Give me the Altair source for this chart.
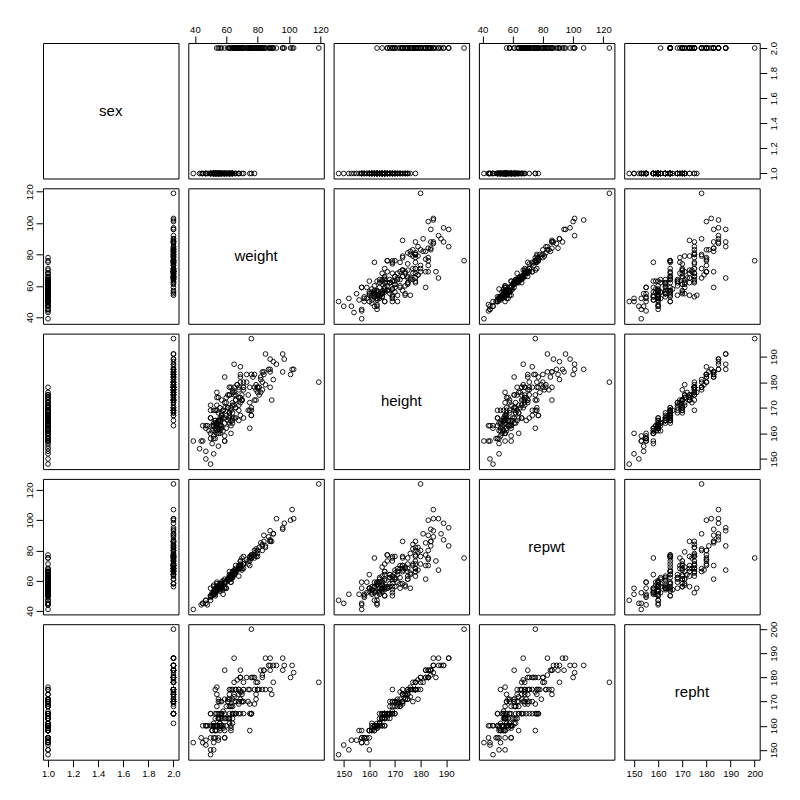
import altair as alt
import pandas as pd

# Davis data (sex: 1 = F, 2 = M); None = missing
sex = [2,1,1,2,1,2,2,2,2,2,2,1,1,1,1,1,2,1,2,1,2,1,2,2,1,1,1,1,1,2,1,2,2,1,1,2,1,2,2,2,
       1,2,1,2,2,1,2,1,1,1,2,1,2,2,2,2,1,2,2,2,2,2,2,1,2,1,1,1,1,2,1,2,1,1,1,1,1,1,2,2,
       1,2,1,1,1,2,2,1,1,1,2,1,2,2,2,1,2,1,1,1,1,2,1,1,1,1,1,1,1,1,2,2,1,2,1,1,2,2,2,2,
       2,2,1,1,2,1,1,1,1,1,1,2,1,1,2,1,1,1,2,2,2,1,1,1,1,1,1,1,1,2,1,1,1,1,1,2,2,1,1,1,
       1,1,1,1,2,1,1,1,2,1,2,1,2,2,2,2,1,2,2,2,2,1,2,1,2,1,1,1,2,1,2,2,1,1,1,2,2,2,2,2]
weight = [77,58,53,68,59,76,76,69,71,65,70,57,51,64,52,65,92,62,76,61,119,61,65,66,54,50,63,58,39,101,
          71,75,79,52,68,64,56,69,88,65,54,80,63,78,85,54,73,49,54,75,82,56,74,102,64,65,66,73,75,57,
          68,71,71,78,97,60,64,64,52,80,62,66,55,56,50,50,50,63,69,69,61,55,53,60,56,59,62,53,57,57,
          70,56,84,69,88,56,103,50,52,55,55,63,47,45,62,53,52,57,64,59,84,79,55,67,76,62,83,96,75,65,
          78,69,68,55,67,52,47,45,68,44,62,87,56,50,83,53,64,62,90,85,66,52,53,54,64,55,55,59,70,88,
          57,47,47,55,48,54,69,59,58,57,51,54,53,59,56,59,63,66,96,53,76,54,61,82,62,71,60,66,81,68,
          80,43,82,63,70,56,60,58,76,50,88,89,59,51,62,74,83,81,90,79]
height = [182,161,161,177,157,170,167,186,178,171,175,166,161,168,163,166,187,168,197,175,180,170,175,173,171,166,169,166,157,183,
          166,178,173,164,169,176,166,174,178,187,164,178,163,183,179,160,180,161,174,162,182,165,169,185,177,176,170,183,172,173,
          165,177,180,173,189,162,165,164,158,178,175,173,165,163,166,171,160,160,182,183,165,168,169,167,170,182,178,165,163,162,
          173,161,184,180,189,165,185,169,159,155,164,178,163,163,175,164,152,167,166,166,183,179,174,179,167,168,184,184,169,178,
          178,167,178,165,179,169,153,157,171,157,166,185,160,148,177,162,172,167,188,191,175,163,165,176,171,160,165,157,173,184,
          168,162,150,162,163,169,172,170,169,167,163,161,162,172,163,159,170,166,191,158,169,163,170,176,168,178,174,170,178,174,
          176,154,181,165,173,162,172,169,183,158,185,173,164,156,164,175,180,175,181,177]
repwt = [77,51,54,70,59,76,77,73,71,64,75,56,52,64,57,66,101,62,75,61,124,61,66,70,59,50,61,60,41,100,
         71,73,76,52,63,65,54,69,86,67,53,80,59,80,82,55,None,None,56,75,85,57,73,107,None,64,65,74,70,58,
         69,71,76,75,98,59,63,62,51,76,61,66,54,57,50,None,55,64,70,70,60,56,52,55,56,61,66,53,59,56,
         68,56,86,71,87,57,101,50,52,None,55,63,47,45,63,51,51,55,64,55,90,79,57,67,77,62,83,94,76,66,
         77,73,68,55,None,56,None,45,68,44,61,89,53,47,84,53,62,None,91,83,68,53,55,55,66,55,55,55,67,86,
         58,47,45,None,44,58,68,None,None,56,50,54,52,58,58,59,62,66,95,50,75,None,61,None,64,68,None,67,82,68,
         78,None,None,59,70,56,55,54,75,49,93,86,59,51,61,71,80,None,91,81]
repht = [180,159,158,175,155,165,165,180,175,170,174,163,158,165,160,165,185,165,200,171,178,170,173,170,168,165,168,160,153,180,
         165,175,173,161,170,175,165,171,175,188,160,178,159,180,175,158,None,None,173,158,183,163,170,185,None,172,None,180,169,170,
         165,170,175,169,185,160,163,161,155,175,171,175,163,159,160,None,150,158,180,183,163,170,175,163,170,183,175,165,160,160,
         170,161,183,180,185,160,182,165,153,154,163,175,160,160,173,160,150,164,165,163,183,171,171,179,165,163,181,183,165,178,
         175,165,175,163,None,None,154,153,169,155,163,185,158,148,175,160,168,None,185,188,175,160,163,176,171,155,165,158,170,183,
         165,160,152,None,160,165,174,None,None,165,160,160,158,171,161,155,168,165,188,155,165,None,170,None,168,178,None,165,175,173,
         175,None,None,160,173,160,168,166,180,155,188,173,165,158,161,175,180,None,178,178]

df = pd.DataFrame({"sex": sex, "weight": weight, "height": height, "repwt": repwt, "repht": repht})

variables = ["sex", "weight", "height", "repwt", "repht"]
domains = {
    "sex": [0.96, 2.04],
    "weight": [35.8, 122.2],
    "height": [146.04, 198.96],
    "repwt": [37.68, 127.32],
    "repht": [145.92, 202.08],
}
tick_values = {
    "sex": [1.0, 1.2, 1.4, 1.6, 1.8, 2.0],
    "weight": [40, 60, 80, 100, 120],
    "height": [150, 160, 170, 180, 190],
    "repwt": [40, 60, 80, 100, 120],
    "repht": [150, 160, 170, 180, 190, 200],
}
formats = {"sex": ".1f", "weight": "d", "height": "d", "repwt": "d", "repht": "d"}

W = 135.5
FONT = "Liberation Sans"


def make_axis(var, orient):
    common = dict(values=tick_values[var], format=formats[var], orient=orient, title=None,
                  labelFlush=False, labelOverlap=False)
    if orient in ("left", "right"):
        common.update(labelAngle=270, labelAlign="center",
                      labelBaseline="bottom" if orient == "left" else "top")
    else:
        common.update(labelAngle=0, labelAlign="center",
                      labelBaseline="bottom" if orient == "top" else "top")
    return alt.Axis(**common)


panels = []
for i, yv in enumerate(variables):
    for j, xv in enumerate(variables):
        if i == 0 and j % 2 == 1:
            xaxis = make_axis(xv, "top")
        elif i == 4 and j % 2 == 0:
            xaxis = make_axis(xv, "bottom")
        else:
            xaxis = None
        if j == 0 and i % 2 == 1:
            yaxis = make_axis(yv, "left")
        elif j == 4 and i % 2 == 0:
            yaxis = make_axis(yv, "right")
        else:
            yaxis = None

        diag = i == j
        pts = alt.Chart(df).mark_point(
            shape="circle", filled=False, color="black", size=22, strokeWidth=0.9,
            opacity=0 if diag else 1,
        ).encode(
            x=alt.X(f"{xv}:Q", scale=alt.Scale(domain=domains[xv], nice=False, zero=False), axis=xaxis),
            y=alt.Y(f"{yv}:Q", scale=alt.Scale(domain=domains[yv], nice=False, zero=False), axis=yaxis),
        )
        if diag:
            label = alt.Chart(pd.DataFrame({"name": [xv]})).mark_text(
                font=FONT, fontSize=15, color="black", align="center", baseline="middle"
            ).encode(x=alt.value(W / 2), y=alt.value(W / 2), text="name:N")
            panel = alt.layer(pts, label).properties(width=W, height=W)
        else:
            panel = pts.properties(width=W, height=W)
        panels.append(panel)

chart = alt.concat(*panels, columns=5, spacing=9.3, bounds="flush").properties(
    padding={"left": 15, "top": 15, "right": 10, "bottom": 10}
).configure_view(
    stroke="black", strokeWidth=1
).configure_axis(
    grid=False, domain=False, tickColor="black", tickSize=7, tickWidth=1,
    labelFont=FONT, labelFontSize=9.5, labelColor="black", labelPadding=2,
)

chart.save("out.html", embed_options={"renderer": "svg", "actions": False})
